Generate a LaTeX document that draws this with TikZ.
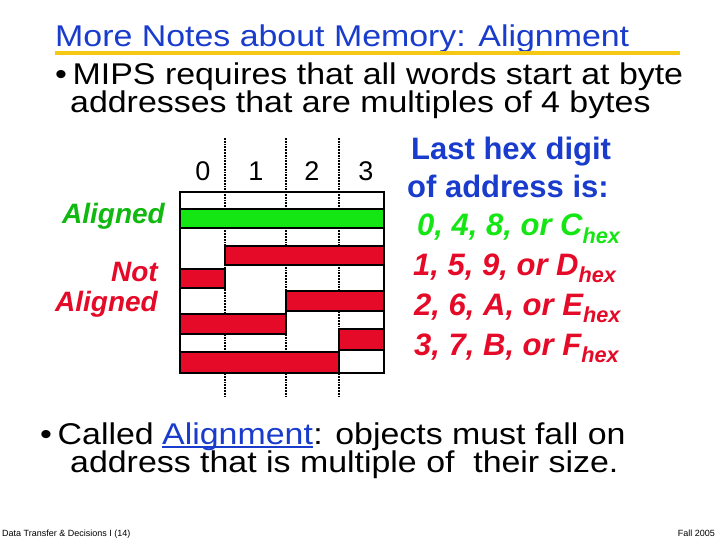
\documentclass[tikz,border=0pt]{standalone}
\usepackage{fontspec}
\setmainfont{Liberation Sans}
\definecolor{titleblue}{RGB}{25,60,205}
\definecolor{lime}{RGB}{20,230,20}
\definecolor{alignred}{RGB}{228,10,40}
\definecolor{barline}{RGB}{245,200,20}
\newcommand{\wide}[1]{\scalebox{1.13}[1]{#1}}
\tikzset{
  txt/.style={inner sep=0pt, anchor=base west},
  bodytxt/.style={txt, font=\fontsize{30}{30}\selectfont},
  byte/.style={draw=black, line width=1.6pt},
  divider/.style={densely dotted, line width=1.8pt},
}
\begin{document}
\begin{tikzpicture}[x=1pt, y=-1pt]
		\useasboundingbox[fill=white] (0,0) rectangle (720,540);
		% title
		\node[bodytxt, titleblue] (title) at (55,47) {\wide{More Notes about Memory: Alignment}};
		\fill[barline] (55,51) rectangle (680,55.5);
		\node[bodytxt] (mips1) at (55,85) {\wide{\textbullet\,MIPS requires that all words start at byte}};
		\node[bodytxt] (mips2) at (70,113) {\wide{addresses that are multiples of 4 bytes}};
		% memory picture
		\draw[divider] (225,138) -- (225,398);
		\draw[divider] (286,138) -- (286,398);
		\draw[divider] (339,138) -- (339,398);
		\foreach \d/\x in {0/203, 1/256, 2/312, 3/366}
			\node[font=\fontsize{27}{27}\selectfont, inner sep=0pt, anchor=base] (byte\d) at (\x,181) {\d};
		\fill[lime, byte] (180,209) rectangle (384,228);
		\fill[alignred, byte] (225,246) rectangle (384,265);
		\fill[alignred, byte] (180,269) rectangle (225,288);
		\fill[alignred, byte] (286,291) rectangle (384,311);
		\fill[alignred, byte] (180,314) rectangle (286,334);
		\fill[alignred, byte] (339,329) rectangle (384,350);
		\fill[alignred, byte] (180,352) rectangle (339,373);
		\draw[line width=2pt] (180,192) rectangle (384,373);
		\node[inner sep=0pt, anchor=base east, lime!80!black, font=\fontsize{28}{28}\selectfont\bfseries\itshape] (aligned) at (165,223) {Aligned};
		\node[inner sep=0pt, anchor=base east, alignred, font=\fontsize{28}{28}\selectfont\bfseries\itshape] (notal1) at (158,281) {Not};
		\node[inner sep=0pt, anchor=base east, alignred, font=\fontsize{28}{28}\selectfont\bfseries\itshape] (notal2) at (158,311) {Aligned};
		% hex digits
		\node[txt, titleblue, font=\fontsize{31}{31}\selectfont\bfseries] (last1) at (411,160) {Last hex digit};
		\node[txt, titleblue, font=\fontsize{31}{31}\selectfont\bfseries] (last2) at (407,197) {of address is:};
		\node[txt, lime, font=\fontsize{31}{31}\selectfont\bfseries\itshape] (hex0) at (417,236) {0, 4, 8, or C\textsubscript{hex}};
		\node[txt, alignred, font=\fontsize{31}{31}\selectfont\bfseries\itshape] (hex1) at (413,275) {1, 5, 9, or D\textsubscript{hex}};
		\node[txt, alignred, font=\fontsize{31}{31}\selectfont\bfseries\itshape] (hex2) at (414,315) {2, 6, A, or E\textsubscript{hex}};
		\node[txt, alignred, font=\fontsize{31}{31}\selectfont\bfseries\itshape] (hex3) at (414,355) {3, 7, B, or F\textsubscript{hex}};
		% bottom bullet
		\node[bodytxt] (called) at (40,444) {\wide{\textbullet\,Called}};
		\node[bodytxt, titleblue] (alignword) at ([xshift=8pt]called.base east) {\wide{Alignment}};
		\draw[titleblue, line width=1.5pt] ([yshift=-3pt]alignword.base west) -- ([yshift=-3pt]alignword.base east);
		\node[bodytxt] (called1) at (alignword.base east) {\wide{: objects must fall on}};
		\node[bodytxt] (called2) at (70,472) {\wide{address that is multiple of \ their size.}};
		% footer
		\node[txt, font=\fontsize{9}{9}\selectfont] (foot) at (2,536) {Data Transfer \& Decisions I (14)};
		\node[inner sep=0pt, anchor=base east, font=\fontsize{9}{9}\selectfont] (fall) at (715,536) {Fall 2005};
	\end{tikzpicture}
\end{document}
